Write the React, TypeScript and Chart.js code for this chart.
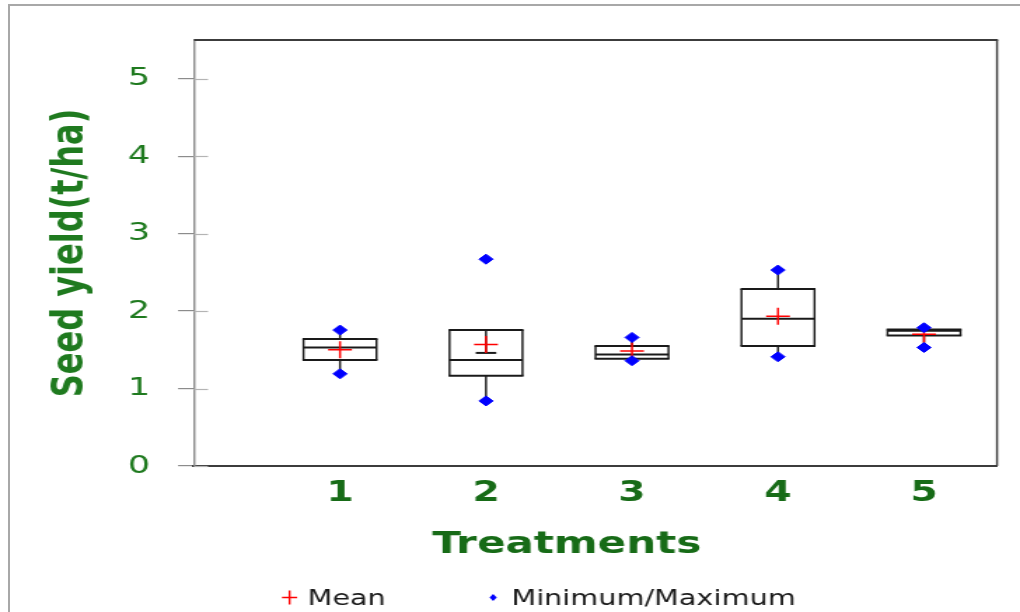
import React, { useEffect, useRef } from 'react';
import Chart from 'chart.js/auto';

// ---- data ----
const TREATMENT_LABELS = ['1', '2', '3', '4', '5'];
const MEAN = [1.5, 1.57, 1.484, 1.935, 1.7];
const MINIMUM = [1.19, 0.84, 1.36, 1.41, 1.53];
const MAXIMUM = [1.755, 2.67, 1.66, 2.53, 1.785];
const Q1 = [1.37, 1.165, 1.385, 1.548, 1.684];
const MEDIAN = [1.53, 1.37, 1.44, 1.9, 1.745];
const Q3 = [1.64, 1.755, 1.548, 2.284, 1.762];
const WHISKER_LOW = [1.19, 0.84, 1.36, 1.41, 1.53];
const WHISKER_HIGH = [1.755, 1.46, 1.66, 2.53, 1.785];
const LEGEND_LABELS = ['Mean', 'Minimum/Maximum'];
const X_TITLE = 'Treatments';
const Y_TITLE = 'Seed yield(t/ha)';

// ---- styling ----
const CSS_W = 1020;
const CSS_H = 612;
const NAT_W = 728; // canvas drawn narrower and stretched horizontally, like the reference
const SX = CSS_W / NAT_W;
const GREEN = '#1f7a1f';
const GREEN_DARK = '#176b17';
const RED = '#ff0000';
const BLUE = '#0000ff';
const BOX_WIDTH = 0.5;
const FONT = 'DejaVu Sans';

const boxPlugin = {
  id: 'boxes',
  beforeDatasetsDraw(chart: any) {
    const { ctx, scales } = chart;
    const x = scales.x;
    const y = scales.y;
    const half = x.getPixelForValue(BOX_WIDTH / 2) - x.getPixelForValue(0);
    const capHalf = half * 0.28;
    ctx.save();
    ctx.strokeStyle = '#1a1a1a';
    for (let i = 0; i < Q1.length; i++) {
      const cx = x.getPixelForValue(i + 1);
      const y1 = y.getPixelForValue(Q1[i]);
      const y3 = y.getPixelForValue(Q3[i]);
      const ym = y.getPixelForValue(MEDIAN[i]);
      const wl = y.getPixelForValue(WHISKER_LOW[i]);
      const wh = y.getPixelForValue(WHISKER_HIGH[i]);
      ctx.fillStyle = '#ffffff';
      ctx.fillRect(cx - half, y3, 2 * half, y1 - y3);
      const hline = (xa: number, xb: number, yy: number) => {
        ctx.lineWidth = 2;
        ctx.beginPath();
        ctx.moveTo(xa, yy);
        ctx.lineTo(xb, yy);
        ctx.stroke();
      };
      const vline = (xx: number, ya: number, yb: number) => {
        ctx.lineWidth = 1.45;
        ctx.beginPath();
        ctx.moveTo(xx, ya);
        ctx.lineTo(xx, yb);
        ctx.stroke();
      };
      hline(cx - half - 0.7, cx + half + 0.7, y3);
      hline(cx - half - 0.7, cx + half + 0.7, y1);
      vline(cx - half, y3, y1);
      vline(cx + half, y3, y1);
      hline(cx - half, cx + half, ym);
      vline(cx, y3, wh);
      vline(cx, y1, wl);
      if (WHISKER_HIGH[i] !== MAXIMUM[i]) hline(cx - capHalf, cx + capHalf, wh);
      if (WHISKER_LOW[i] !== MINIMUM[i]) hline(cx - capHalf, cx + capHalf, wl);
    }
    ctx.restore();
  },
};

const framePlugin = {
  id: 'frame',
  beforeDatasetsDraw(chart: any) {
    const { ctx, chartArea } = chart;
    const yScale = chart.scales.y;
    ctx.save();
    // top and right edges of the plot frame
    ctx.strokeStyle = '#3c3c3c';
    ctx.lineWidth = 2;
    ctx.beginPath();
    ctx.moveTo(chartArea.left, chartArea.top);
    ctx.lineTo(chartArea.right + 0.7, chartArea.top);
    ctx.stroke();
    ctx.lineWidth = 1.45;
    ctx.beginPath();
    ctx.moveTo(chartArea.right, chartArea.top);
    ctx.lineTo(chartArea.right, chartArea.bottom);
    ctx.stroke();
    // inner part of the y ticks
    ctx.strokeStyle = '#b4b4b4';
    ctx.lineWidth = 1.2;
    yScale.ticks.forEach((t: any) => {
      const py = Math.round(yScale.getPixelForValue(t.value)) + 0.5;
      ctx.beginPath();
      ctx.moveTo(chartArea.left, py);
      ctx.lineTo(chartArea.left + 10, py);
      ctx.stroke();
    });
    ctx.restore();
  },
};

const textPlugin = {
  id: 'texts',
  afterDraw(chart: any) {
    const { ctx, chartArea } = chart;
    ctx.save();
    // x axis title
    ctx.fillStyle = GREEN_DARK;
    ctx.font = `bold 30px "${FONT}"`;
    ctx.textAlign = 'center';
    ctx.textBaseline = 'alphabetic';
    ctx.fillText(X_TITLE, chartArea.left + 266, chartArea.bottom + 87);

    // legend
    const base = chartArea.bottom + 139;
    ctx.font = `20.5px "${FONT}"`;
    ctx.textAlign = 'left';
    ctx.fillStyle = '#1a1a1a';
    // mean marker (cross)
    const c1 = chartArea.left + 68.2;
    const cy = base - 7.5;
    ctx.strokeStyle = RED;
    ctx.lineWidth = 1.4;
    ctx.beginPath();
    ctx.moveTo(c1 - 5.4, cy);
    ctx.lineTo(c1 + 5.4, cy);
    ctx.moveTo(c1, cy - 7);
    ctx.lineTo(c1, cy + 7);
    ctx.stroke();
    ctx.fillText(LEGEND_LABELS[0], chartArea.left + 81, base);
    // min/max marker (diamond)
    const c2 = chartArea.left + 213.5;
    ctx.fillStyle = BLUE;
    ctx.beginPath();
    ctx.moveTo(c2, cy - 3.6);
    ctx.lineTo(c2 + 2.6, cy);
    ctx.lineTo(c2, cy + 3.6);
    ctx.lineTo(c2 - 2.6, cy);
    ctx.closePath();
    ctx.fill();
    ctx.fillStyle = '#1a1a1a';
    ctx.fillText(LEGEND_LABELS[1], chartArea.left + 226.5, base);
    ctx.restore();
  },
};

export default function App() {
  const ref = useRef<HTMLCanvasElement>(null);
  useEffect(() => {
    document.body.style.margin = '0';
    const canvas = ref.current;
    if (!canvas) return;
    const plotLeft = 194 / SX;
    const plotRight = 997 / SX;
    const XH = 60;
    const chart = new Chart(canvas, {
      type: 'scatter',
      data: {
        datasets: [
          {
            label: LEGEND_LABELS[1],
            data: [
              ...MINIMUM.map((v, i) => ({ x: i + 1, y: v })),
              ...MAXIMUM.map((v, i) => ({ x: i + 1, y: v })),
            ],
            pointStyle: 'rectRot',
            pointRadius: 5,
            backgroundColor: BLUE,
            borderColor: BLUE,
            borderWidth: 1,
          },
          {
            label: LEGEND_LABELS[0],
            data: MEAN.map((v, i) => ({ x: i + 1, y: v })),
            pointStyle: 'cross',
            pointRadius: 8.5,
            backgroundColor: RED,
            borderColor: RED,
            borderWidth: 1.5,
          },
        ],
      },
      options: {
        responsive: false,
        animation: false,
        devicePixelRatio: 1,
        events: [],
        layout: {
          padding: { top: 40, right: NAT_W - plotRight, left: 0, bottom: CSS_H - 466 - XH },
        },
        plugins: {
          legend: { display: false },
          tooltip: { enabled: false },
        },
        scales: {
          x: {
            type: 'linear',
            min: 0,
            max: 5.5,
            afterFit: (s: any) => {
              s.height = XH;
            },
            border: { display: true, color: '#3c3c3c', width: 2 },
            grid: { display: false, drawOnChartArea: false, drawTicks: false },
            ticks: {
              stepSize: 1,
              includeBounds: false,
              autoSkip: false,
              maxRotation: 0,
              padding: 11,
              color: GREEN_DARK,
              font: { family: FONT, weight: 'bold', size: 28 },
              callback: (v: any) => TREATMENT_LABELS[Number(v) - 1] ?? '',
            },
          },
          y: {
            type: 'linear',
            min: 0,
            max: 5.5,
            afterFit: (s: any) => {
              s.width = plotLeft;
            },
            border: { display: true, color: '#8c8c8c', width: 1.45 },
            grid: { drawOnChartArea: false, drawTicks: true, tickLength: 11.4, color: '#8c8c8c', lineWidth: 1.2 },
            ticks: {
              stepSize: 1,
              includeBounds: false,
              padding: 20,
              color: GREEN,
              font: { family: FONT, size: 25 },
            },
            title: {
              display: true,
              text: Y_TITLE,
              color: GREEN,
              font: { family: FONT, weight: 'bold', size: 32 },
              padding: { top: 31, bottom: 0 },
            },
          },
        },
      },
      plugins: [framePlugin, boxPlugin, textPlugin],
    } as any);
    return () => chart.destroy();
  }, []);

  return (
    <div style={{ position: 'relative', width: CSS_W, height: CSS_H, background: '#ffffff', overflow: 'hidden' }}>
      <div
        style={{
          position: 'absolute',
          left: 8,
          top: 4,
          right: -4,
          bottom: -4,
          borderLeft: '2px solid #a8a8a8',
          borderTop: '2px solid #a8a8a8',
        }}
      />
      <canvas
        ref={ref}
        width={NAT_W}
        height={CSS_H}
        style={{ position: 'absolute', left: 0, top: 0, width: `${CSS_W}px`, height: `${CSS_H}px` }}
      />
    </div>
  );
}
